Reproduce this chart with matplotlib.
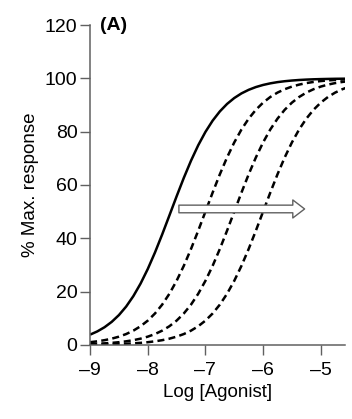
import matplotlib
matplotlib.use("Agg")
import matplotlib.pyplot as plt

plt.rcParams["font.family"] = ["Liberation Sans", "DejaVu Sans"]

# log agonist concentration (at 0.125 log steps)
log_agonist = [-9.0, -8.875, -8.75, -8.625, -8.5, -8.375, -8.25, -8.125,
               -8.0, -7.875, -7.75, -7.625, -7.5, -7.375, -7.25, -7.125,
               -7.0, -6.875, -6.75, -6.625, -6.5, -6.375, -6.25, -6.125,
               -6.0, -5.875, -5.75, -5.625, -5.5, -5.375, -5.25, -5.125,
               -5.0, -4.875, -4.75, -4.625, -4.5]

# % max response: control curve (solid) and three right-shifted curves (dashed)
control = [3.83, 5.04, 6.61, 8.63, 11.18, 14.37, 18.29, 22.99, 28.47, 34.67,
           41.44, 48.56, 55.73, 62.67, 69.12, 74.91, 79.92, 84.15, 87.62, 90.42,
           92.64, 94.38, 95.72, 96.76, 97.55, 98.15, 98.61, 98.95, 99.21, 99.41,
           99.56, 99.67, 99.75, 99.81, 99.86, 99.89, 99.92]
shift_1 = [0.99, 1.32, 1.75, 2.32, 3.07, 4.05, 5.33, 6.98, 9.09, 11.77,
           15.10, 19.17, 24.03, 29.66, 35.99, 42.85, 50.0, 57.15, 64.01, 70.34,
           75.97, 80.83, 84.90, 88.23, 90.91, 93.03, 94.68, 95.95, 96.93, 97.68,
           98.25, 98.68, 99.01, 99.26, 99.44, 99.58, 99.69]
shift_2 = [0.32, 0.42, 0.56, 0.74, 0.99, 1.32, 1.75, 2.32, 3.07, 4.05,
           5.33, 6.98, 9.09, 11.77, 15.10, 19.17, 24.03, 29.66, 35.99, 42.85,
           50.0, 57.15, 64.01, 70.34, 75.97, 80.83, 84.90, 88.23, 90.91, 93.03,
           94.68, 95.95, 96.93, 97.68, 98.25, 98.68, 99.01]
shift_3 = [0.10, 0.13, 0.18, 0.24, 0.32, 0.42, 0.56, 0.74, 0.99, 1.32,
           1.75, 2.32, 3.07, 4.05, 5.33, 6.98, 9.09, 11.77, 15.10, 19.17,
           24.03, 29.66, 35.99, 42.85, 50.0, 57.15, 64.01, 70.34, 75.97, 80.83,
           84.90, 88.23, 90.91, 93.03, 94.68, 95.95, 96.93]

x_ticks = [-9, -8, -7, -6, -5]
y_ticks = [0, 20, 40, 60, 80, 100, 120]

fig = plt.figure(figsize=(3.52, 4.19), dpi=100)
ax = fig.add_axes([0.256, 0.177, 0.724, 0.763])

ax.plot(log_agonist, control, color="black", lw=1.8, solid_capstyle="butt")
for ys in (shift_1, shift_2, shift_3):
    ax.plot(log_agonist, ys, color="black", lw=1.8, dashes=(2.8, 1.7))

# hollow arrow showing the rightward shift
ax.annotate("", xy=(-5.28, 51), xytext=(-7.46, 51),
            arrowprops=dict(arrowstyle="simple,head_length=0.85,head_width=1.3,tail_width=0.55",
                            fc="white", ec="#606060", lw=1.0,
                            shrinkA=0, shrinkB=0, mutation_scale=10))

ax.text(-8.82, 120, "(A)", fontsize=14, fontweight="bold", va="center", ha="left")

ax.set_xlim(-9, -4.58)
ax.set_ylim(0, 120)
ax.set_xticks(x_ticks)
ax.set_xticklabels(["\u2013" + str(abs(t)) for t in x_ticks])
ax.set_yticks(y_ticks)

for side in ("top", "right"):
    ax.spines[side].set_visible(False)
for side in ("left", "bottom"):
    ax.spines[side].set_color("#606060")
    ax.spines[side].set_linewidth(1.1)
ax.tick_params(direction="out", length=7, width=1.0, color="#606060",
               labelsize=14, pad=2)
ax.tick_params(axis="x", pad=5)

ax.set_xlabel("Log [Agonist]", fontsize=13.5, labelpad=4)
ax.set_ylabel("% Max. response", fontsize=13.5, labelpad=4)

fig.savefig("out.png", dpi=100)
